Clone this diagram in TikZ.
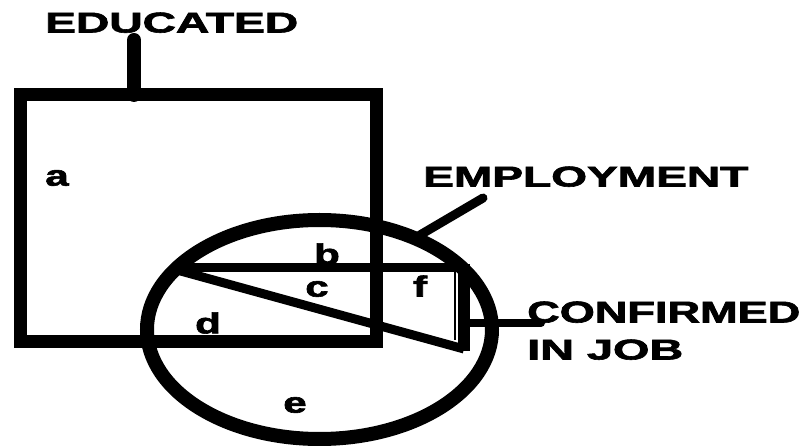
\documentclass[tikz,border=0pt]{standalone}
\usepackage{fontspec}
\setmainfont{Liberation Sans}[BoldFeatures={FakeBold=2}]
\usepackage{graphicx}
\begin{document}
\begin{tikzpicture}[x=1pt,y=-1pt,
  captext/.style={inner sep=0pt, anchor=south west, font=\bfseries},
  lbl/.style={inner sep=0pt, font=\bfseries\fontsize{29}{29}\selectfont},
  thick line/.style={line width=13pt},
  mid line/.style={line width=9pt},
  pointer/.style={line width=9pt, line cap=round}]
\useasboundingbox (0,0) rectangle (804,446);
% Educated square
\draw[thick line, line join=miter] (20,95) rectangle (376,342);
% Employment ellipse
\draw[line width=14pt] (319.5,329.5) ellipse [x radius=172.5, y radius=109.5];
% Confirmed-in-job triangle
\coordinate (tl) at (177,268);
\coordinate (tr) at (462,268);
\coordinate (br) at (464,349);
\draw[mid line] (tl) -- (tr);
\draw[mid line] (177,270) -- (br);
\draw[line width=12pt] (464,264) -- (464,351);
\draw[line width=2.5pt] (455,268) -- (455,340);
% title texts
\node[captext] (edu) at (45,33) {\resizebox{253pt}{20pt}{EDUCATED}};
\node[captext] (emp) at (423,187) {\resizebox{325pt}{20pt}{EMPLOYMENT}};
\node[captext] (conf) at (527,323) {\resizebox{273pt}{21pt}{CONFIRMED}};
\node[captext] (job) at (527,360) {\resizebox{156pt}{20pt}{IN JOB}};
% pointers
\coordinate (stemtop) at (134,40);
\coordinate (stembot) at (134,95);
\draw[line width=14pt, line cap=round] (stemtop) -- (stembot);
\coordinate (empA) at (420,235);
\coordinate (empB) at (483,198);
\draw[pointer] (empA) -- (empB);
\coordinate (confA) at (470,323);
\coordinate (confB) at (541,323);
\draw[line width=8pt, line cap=round] (confA) -- (confB);
% region labels
\node[lbl] (a) at (57,178) {\scalebox{1.45}[1]{a}};
\node[lbl] (b) at (327,254) {\scalebox{1.45}[1]{b}};
\node[lbl] (c) at (317,289) {\scalebox{1.45}[1]{c}};
\node[lbl] (d) at (208,323) {\scalebox{1.45}[1]{d}};
\node[lbl] (e) at (295,405) {\scalebox{1.45}[1]{e}};
\node[lbl] (f) at (420,286) {\scalebox{1.45}[1]{f}};
\end{tikzpicture}
\end{document}
